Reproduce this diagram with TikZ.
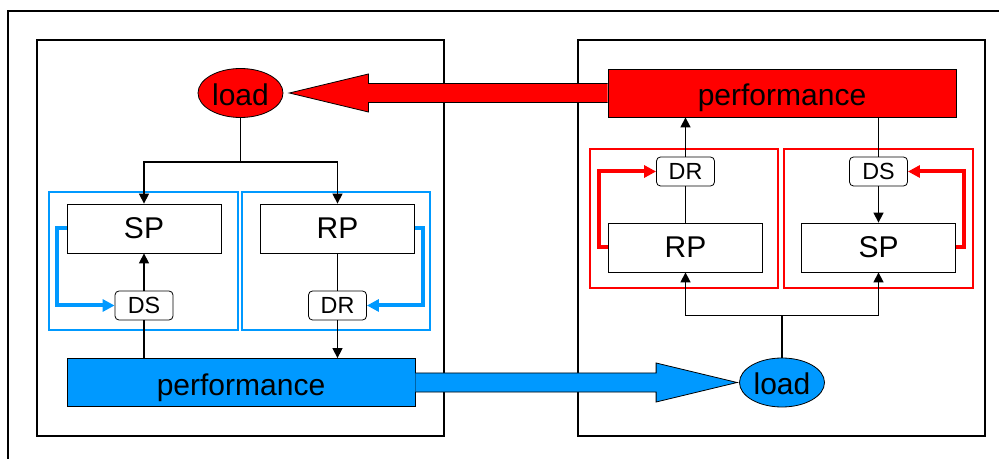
\documentclass[tikz,border=0pt]{standalone}
\usepackage{fontspec}
\setmainfont{Liberation Sans}
\usetikzlibrary{arrows.meta,calc,shapes.geometric}

\definecolor{ctrlblue}{RGB}{0,153,255}
\definecolor{ctrlred}{RGB}{255,0,0}

\begin{document}
\begin{tikzpicture}[x=0.75pt,y=0.75pt,yscale=-1,xscale=1,
  big/.style={font=\fontsize{22.5}{26}\selectfont},
  small/.style={font=\fontsize{17.5}{20}\selectfont},
  procbox/.style={draw, fill=white, line width=0.6pt, minimum width=115.5pt, minimum height=36.75pt, inner sep=0pt, big},
  dlybox/.style={draw, fill=white, rounded corners=3pt, line width=0.6pt, minimum width=43.5pt, minimum height=21.75pt, inner sep=0pt, small},
  perfbox/.style={draw, line width=0.6pt, minimum width=261pt, minimum height=36pt, inner sep=0pt, text height=19pt, text depth=0pt, big},
  loadell/.style={ellipse, draw, line width=0.6pt, minimum width=63.75pt, minimum height=36.75pt, inner sep=0pt, text height=18.5pt, text depth=0pt, big},
  link/.style={line width=1.1pt},
  flow/.style={link, -{Triangle[length=7.5pt,width=7.5pt]}},
  loop/.style={line width=3pt, -{Triangle[length=9pt,width=9pt]}},
  group/.style={line width=1.5pt},
  fat/.style={line width=0.6pt, line join=miter}
]
\useasboundingbox (0,0) rectangle (999,459);

%Shape: Rectangle (outer frame)
\draw [line width=0.8pt] (8,11) rectangle (1010,470);
%Shape: Rectangle (left part)
\draw [line width=0.8pt] (37,40) rectangle (444,436);
%Shape: Rectangle (right part)
\draw [line width=0.8pt] (578,40) rectangle (985,436);

%Shape: Rectangle (groups)
\draw [group, ctrlblue] (49,192) rectangle (238,330);
\draw [group, ctrlblue] (242,192) rectangle (430,330);
\draw [group, ctrlred] (590,149) rectangle (778,288);
\draw [group, ctrlred] (784,149) rectangle (973,288);

% Left part
\node [loadell, fill=ctrlred] (ldL) at (240.5,93) {load};
\node [procbox] (spL) at (144,228.5) {SP};
\node [procbox] (rpL) at (337.5,228.5) {RP};
\node [dlybox] (dsL) at (144,305.5) {DS};
\node [dlybox] (drL) at (337.5,305.5) {DR};
\node [perfbox, fill=ctrlblue] (perfB) at (241,382.5) {performance};

% Right part
\node [perfbox, fill=ctrlred] (perfR) at (782,93) {performance};
\node [dlybox] (drR) at (685.5,171.5) {DR};
\node [dlybox] (dsR) at (878.5,171.5) {DS};
\node [procbox] (rpR) at (685.5,247.5) {RP};
\node [procbox] (spR) at (878.5,247.5) {SP};
\node [loadell, fill=ctrlblue] (ldB) at (782,382.5) {load};

%Straight Lines (left)
\coordinate (forkL) at ($(ldL.south)+(0,44)$);
\draw [link] (ldL.south) -- (forkL);
\draw [flow] (forkL) -| (spL.north);
\draw [flow] (forkL) -| (rpL.north);
\draw [flow] (dsL.north) -- (spL.south);
\draw [link] (dsL.south) -- (dsL.south |- perfB.north);
\draw [link] (rpL.south) -- (drL.north);
\draw [flow] (drL.south) -- (drL.south |- perfB.north);
\draw [loop, ctrlblue] (spL.west) -- ++(-10,0) |- (dsL.west);
\draw [loop, ctrlblue] (rpL.east) -- ++(8,0) |- (drL.east);

%Straight Lines (right)
\coordinate (forkR) at ($(ldB.north)+(0,-42)$);
\draw [link] (ldB.north) -- (forkR);
\draw [flow] (forkR) -| (rpR.south);
\draw [flow] (forkR) -| (spR.south);
\draw [link] (rpR.north) -- (drR.south);
\draw [flow] (drR.north) -- (drR.north |- perfR.south);
\draw [link] (dsR.north |- perfR.south) -- (dsR.north);
\draw [flow] (dsR.south) -- (spR.north);
\draw [loop, ctrlred] (rpR.west) -- ++(-9,0) |- (drR.west);
\draw [loop, ctrlred] (spR.east) -- ++(8,0) |- (dsR.east);

%Shape: Arrow (performance to load)
\draw [fat, fill=ctrlred] ($(perfR.west)+(0,-9.5)$) -- ($(ldL.east)+(85,-9.5)$) -- ($(ldL.east)+(85,-19)$)
  -- ($(ldL.east)+(6,0)$) -- ($(ldL.east)+(85,19)$) -- ($(ldL.east)+(85,9.5)$) -- ($(perfR.west)+(0,9.5)$);
\draw [fat, fill=ctrlblue] ($(perfB.east)+(0,-9.5)$) -- ($(ldB.west)+(-83,-9.5)$) -- ($(ldB.west)+(-83,-19.5)$)
  -- ($(ldB.west)+(-2,0)$) -- ($(ldB.west)+(-83,19.5)$) -- ($(ldB.west)+(-83,9.5)$) -- ($(perfB.east)+(0,9.5)$);

\end{tikzpicture}
\end{document}
